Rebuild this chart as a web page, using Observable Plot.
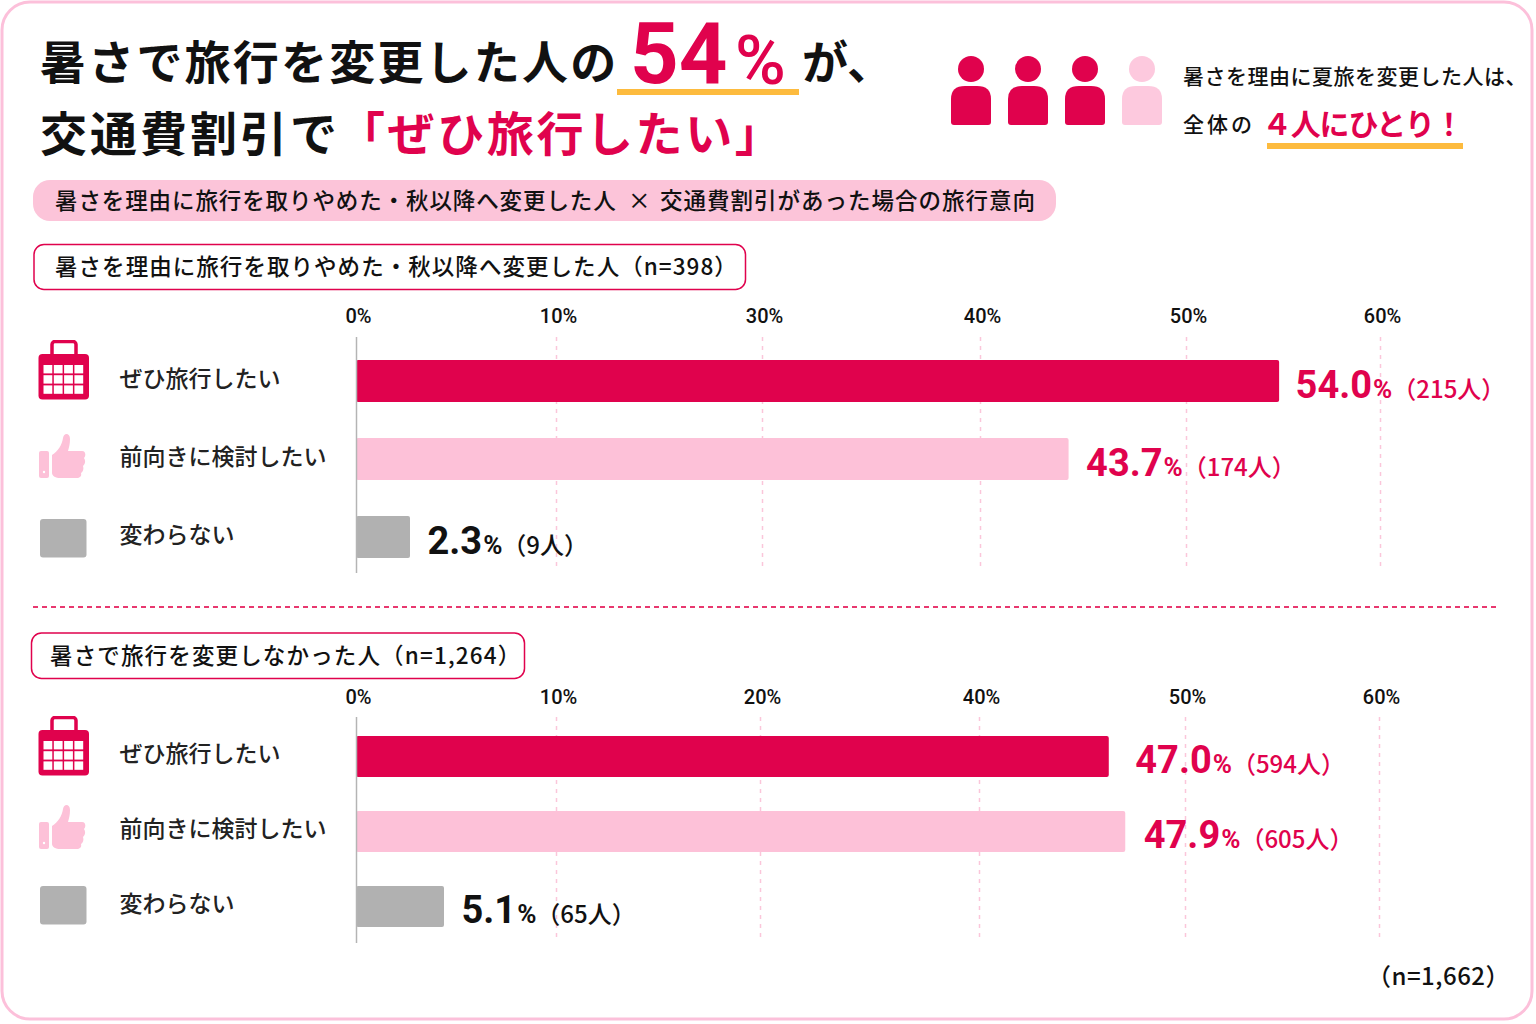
<!DOCTYPE html>
<html lang="ja"><head><meta charset="utf-8">
<script src="https://cdn.jsdelivr.net/npm/d3@7"></script>
<script src="https://cdn.jsdelivr.net/npm/@observablehq/plot@0.6"></script>
<style>
html,body{margin:0;padding:0;background:#fff}
body{width:1536px;height:1024px;position:relative;overflow:hidden;font-family:"Noto Sans CJK JP",sans-serif;color:#111}
.t{position:absolute;white-space:nowrap;line-height:1}
.r{color:#e0024d}
.ab{position:absolute}
.chartwrap{position:absolute;left:0;width:1536px}
.chartwrap svg{display:block;overflow:visible;max-width:none}
</style></head><body>
<div id="page"></div>
<script>
// Data
const categories = ["ぜひ旅行したい", "前向きに検討したい", "変わらない"];
const barColors = ["#e0024d", "#fdc1d8", "#b1b1b1"];
const labelColors = ["#e0024d", "#e0024d", "#111111"];

const topTickValues = [0, 10, 30, 40, 50, 60];
const topBarRead = [54.8, 44.3, 2.7];
const topPercent = ["54.0", "43.7", "2.3"];
const topCount = ["(215人)", "(174人)", "(9人)"];

const bottomTickValues = [0, 10, 20, 40, 50, 60];
const bottomBarRead = [46.3, 47.1, 4.4];
const bottomPercent = ["47.0", "47.9", "5.1"];
const bottomCount = ["(594人)", "(605人)", "(65人)"];

const page = document.getElementById("page");
const ctx = document.createElement("canvas").getContext("2d");
const measure = (s, font) => { ctx.font = font; return ctx.measureText(s).width; };

function chart({top, height, ticks, range, read, pct, cnt, yRange, bandPad, marginBottom, gridInset, tickPadding, labelGap}) {
  const rows = categories.map((c, i) => ({c, v: read[i], pct: pct[i], cnt: cnt[i], col: labelColors[i], gap: labelGap[i]}));
  const numFont = "Roboto", jpFont = '"Noto Sans CJK JP"';
  const labelMarks = rows.flatMap(r => {
    const w = measure(r.pct, `700 38px Roboto`);
    const wp = measure("%", `700 26px Roboto`);
    const common = {x: "v", y: "c", textAnchor: "start", fill: r.col};
    return [
      Plot.text([r], {...common, text: "pct", dx: r.gap, dy: 4, fontSize: 38, fontWeight: 700, fontFamily: numFont}),
      Plot.text([r], {...common, text: () => "%", dx: r.gap + w + 1, dy: 8, fontSize: 26, fontWeight: 700, fontFamily: numFont}),
      Plot.text([r], {...common, text: d => "（" + d.cnt.slice(1, -1) + "）", dx: r.gap + w + 1 + wp, dy: 8.5, fontSize: 24, fontWeight: 500, fontFamily: jpFont})
    ];
  });
  const svg = Plot.plot({
    width: 1536, height,
    marginTop: 37, marginBottom, marginLeft: 0, marginRight: 0,
    style: {background: "transparent", fontFamily: jpFont},
    x: {type: "linear", domain: ticks, range, label: null},
    y: {type: "band", domain: categories, range: yRange, paddingInner: bandPad, paddingOuter: bandPad / 2, axis: null, label: null},
    color: {domain: categories, range: barColors},
    marks: [
      Plot.ruleX(ticks.slice(1), {stroke: "#fbc6da", strokeWidth: 1.5, strokeDasharray: "4 5", insetBottom: gridInset}),
      Plot.barX(rows, {x: "v", y: "c", fill: "c", rx: 2}),
      Plot.ruleX([0], {stroke: "#b4b4b4", strokeWidth: 1.5}),
      Plot.axisX({anchor: "top", ticks, tickSize: 0, tickPadding, dx: 2, tickFormat: d => d + "%", label: null, fontSize: 20, fontWeight: 500, fontFamily: numFont, fill: "#111"}),
      Plot.text(categories, {y: d => d, text: d => d, frameAnchor: "left", dx: 119, dy: -2, textAnchor: "start", fontSize: 23, fontWeight: 500, fontFamily: jpFont, fill: "#222"}),
      ...labelMarks
    ]
  });
  const wrap = document.createElement("div");
  wrap.className = "chartwrap";
  wrap.style.top = top + "px";
  wrap.appendChild(svg);
  page.appendChild(wrap);
}

// Decorative frame and icons
const calendar = (x, y) => {
  let cells = "";
  for (let r = 0; r < 3; r++) for (let c = 0; c < 4; c++)
    cells += `<rect x="${5.5 + c * 10.3}" y="${25 + r * 10.2}" width="8.8" height="8.4" fill="#fff"/>`;
  return `<svg class="ab" style="left:${x}px;top:${y}px" width="52" height="60" viewBox="0 0 52 60"><rect x="14" y="1.5" width="24" height="17" rx="3" fill="none" stroke="#e0024d" stroke-width="3.5"/><rect x="0.5" y="14" width="50.5" height="45.5" rx="4" fill="#e0024d"/>${cells}</svg>`;
};
const thumb = (x, y) => `<svg class="ab" style="left:${x}px;top:${y}px" width="50" height="46" viewBox="0 0 50 46"><rect x="1" y="18" width="10" height="27" rx="2" fill="#fdc1d8"/><circle cx="6" cy="39" r="1.2" fill="#fff"/><path d="M14 22 C20 18 24 12 25 5 C26 -1 32 0 32 6 C32 11 31 14 30 18 L44 18 C48 18 48 23 46 25 C48 28 47 31 45 33 C46 36 45 39 43 40 C44 44 41 45 38 45 L22 45 C18 45 14 43 14 40 Z" fill="#fdc1d8"/></svg>`;
const square = (x, y) => `<svg class="ab" style="left:${x}px;top:${y}px" width="47" height="39"><rect x="0" y="0" width="46.5" height="38.5" rx="3" fill="#b1b1b1"/></svg>`;
const person = (cx, col) => `<ellipse cx="${cx}" cy="69" rx="13" ry="13" fill="${col}"/><path d="M${cx-20} 99 Q${cx-20} 86 ${cx-6} 86 L${cx+6} 86 Q${cx+20} 86 ${cx+20} 99 L${cx+20} 122 Q${cx+20} 125 ${cx+17} 125 L${cx-17} 125 Q${cx-20} 125 ${cx-20} 122 Z" fill="${col}"/>`;

page.insertAdjacentHTML("beforeend", `
<svg class="ab" style="left:0;top:0" width="1536" height="1024">
  <rect x="2" y="2" width="1530" height="1017" rx="28" fill="#fff" stroke="#fcc0da" stroke-width="3"/>
  ${person(971, "#e0024d")}${person(1028, "#e0024d")}${person(1085, "#e0024d")}${person(1142, "#fdc9de")}
  <rect x="617" y="89" width="182" height="6" fill="#fdbb3e"/>
  <rect x="1267" y="143" width="196" height="6" fill="#fdbb3e"/>
  <rect x="33" y="180" width="1023" height="41" rx="17" fill="#fcc4d9"/>
  <rect x="34" y="244.5" width="711.5" height="45" rx="10" fill="#fff" stroke="#e0024d" stroke-width="1.5"/>
  <rect x="31.5" y="633" width="493" height="45.5" rx="10" fill="#fff" stroke="#e0024d" stroke-width="1.5"/>
  <line x1="33" x2="1498" y1="607" y2="607" stroke="#e8386f" stroke-width="2" stroke-dasharray="5 4"/>
</svg>
<div class="t" style="left:40px;top:36px;font-size:46px;font-weight:700;letter-spacing:2.2px">暑さで旅行を変更した人の</div>
<div class="t r" style="left:630px;top:12px;font-size:85px;font-weight:700;font-family:Roboto">54</div>
<div class="t r" style="left:735px;top:26px;font-size:69px;font-weight:500;font-family:Roboto">%</div>
<div class="t" style="left:802px;top:36px;font-size:46px;font-weight:700">が、</div>
<div class="t" style="left:40px;top:107px;font-size:47px;font-weight:700;letter-spacing:3px">交通費割引で</div>
<div class="t r" style="left:338px;top:107px;font-size:47px;font-weight:700;letter-spacing:2.6px">「ぜひ旅行したい」</div>
<div class="t" style="left:55px;top:188px;font-size:22.5px;font-weight:500;letter-spacing:.9px">暑さを理由に旅行を取りやめた・秋以降へ変更した人</div>
<div class="t" style="left:628px;top:188px;font-size:22.5px;font-weight:500">×</div>
<div class="t" style="left:660px;top:188px;font-size:22.5px;font-weight:500;letter-spacing:1px">交通費割引があった場合の旅行意向</div>
<div class="t" style="left:55px;top:254px;font-size:22.5px;font-weight:500;letter-spacing:1.05px">暑さを理由に旅行を取りやめた・秋以降へ変更した人（n=398）</div>
<div class="t" style="left:50px;top:643px;font-size:22.5px;font-weight:500;letter-spacing:1.15px">暑さで旅行を変更しなかった人（n=1,264）</div>
<div class="t" style="left:1183px;top:65px;font-size:21px;font-weight:500;letter-spacing:.5px">暑さを理由に夏旅を変更した人は、</div>
<div class="t" style="left:1183px;top:113px;font-size:21px;font-weight:500;letter-spacing:3px">全体の</div>
<div class="t r" style="left:1262px;top:107px;font-size:30px;font-weight:700;letter-spacing:-1.2px">４人にひとり！</div>
<div class="t" style="right:26px;top:963px;font-size:24px;font-weight:500;letter-spacing:.5px">（n=1,662）</div>
${calendar(38,340)}${thumb(38,433)}${square(40,519)}
${calendar(38,716)}${thumb(38,804)}${square(40,886)}
`);

chart({top: 300, height: 280, ticks: topTickValues, range: [356, 556, 762, 980, 1186, 1380],
  read: topBarRead, pct: topPercent, cnt: topCount, yRange: [42, 276], bandPad: 0.4615, marginBottom: 7, gridInset: 3, tickPadding: 15, labelGap: [16, 17, 17]});
chart({top: 680, height: 270, ticks: bottomTickValues, range: [356, 556, 760, 979, 1185, 1379],
  read: bottomBarRead, pct: bottomPercent, cnt: bottomCount, yRange: [39.5, 264.5], bandPad: 0.4533, marginBottom: 7, gridInset: 5, tickPadding: 14, labelGap: [26, 18, 17]});
</script>
</body></html>
